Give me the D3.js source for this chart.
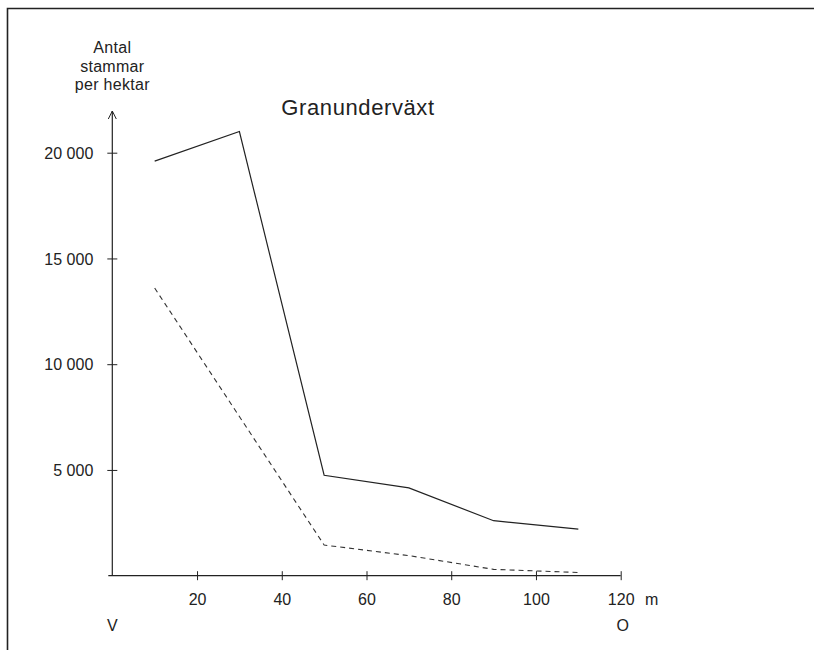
<!DOCTYPE html>
<html>
<head>
<meta charset="utf-8">
<script src="https://cdn.jsdelivr.net/npm/d3@7"></script>
<style>
  body { margin: 0; background: #fff; }
  text { font-family: "Liberation Sans", Arial, Helvetica, sans-serif; fill: #222; }
</style>
</head>
<body>
<div id="chart"></div>
<script>
// Avstånd (m) längs transekten, från V till O.
var distances = [10, 30, 50, 70, 90, 110];
// Antal stammar per hektar, heldragen och streckad linje.
var solidSeries = [19600, 21000, 4750, 4150, 2600, 2200];
var dashedSeries = [13600, 7500, 1450, 950, 300, 150];
var xTicks = [20, 40, 60, 80, 100, 120];
var yTicks = [5000, 10000, 15000, 20000];
var yLabelLines = ["Antal", "stammar", "per hektar"];
var title = "Granunderväxt";

// The dashed line at x=30 is not drawn as a vertex in the picture, so
// keep only the points that have a visible break.
var dashedPoints = [0, 2, 3, 4, 5];

function buildChart() {
  var width = 814;
  var height = 650;

  var x = d3.scaleLinear().domain([0, 120]).range([112.3, 620.7]);
  var y = d3.scaleLinear().domain([0, 20000]).range([575.7, 152.7]);

  var svg = d3.select("#chart").
    append("svg").
    attr("width", width).
    attr("height", height);

  // frame: top and left edges only
  svg.append("path").
    attr("d", "M7.5," + height + "V8.5H" + width).
    attr("fill", "none").
    attr("stroke", "#222").
    attr("stroke-width", 1.6);

  // x axis
  var xAxis = svg.append("g").
    attr("transform", "translate(0," + y(0) + ")").
    call(d3.axisBottom(x).tickValues(xTicks).tickSize(0).tickPadding(18));
  xAxis.select(".domain").remove();
  xAxis.append("line").
    attr("x1", x(0) - 4).
    attr("x2", x(120)).
    attr("stroke", "#222").
    attr("stroke-width", 1.2);
  xAxis.selectAll(".tick line").
    attr("y1", -4.5).
    attr("y2", 4.5).
    attr("stroke", "#222");
  xAxis.selectAll(".tick text").
    attr("font-size", 16).
    attr("fill", "#222").
    style("font-family", "Liberation Sans, Arial, sans-serif");

  // y axis
  var fmt = function(d) { return d3.format(",")(d).replace(",", " "); };
  var yAxis = svg.append("g").
    attr("transform", "translate(" + x(0) + ",0)").
    call(d3.axisLeft(y).tickValues(yTicks).tickSize(0).tickPadding(19).tickFormat(fmt));
  yAxis.select(".domain").remove();
  yAxis.append("line").
    attr("y1", y(0)).
    attr("y2", 111).
    attr("stroke", "#222").
    attr("stroke-width", 1.2);
  yAxis.append("path").
    attr("d", "M-4,119L0,111L4,119").
    attr("fill", "none").
    attr("stroke", "#222").
    attr("stroke-width", 1);
  yAxis.selectAll(".tick line").
    attr("x1", -5).
    attr("x2", 5).
    attr("stroke", "#222");
  yAxis.selectAll(".tick text").
    attr("font-size", 16).
    attr("fill", "#222").
    attr("dy", "0.36em").
    style("font-family", "Liberation Sans, Arial, sans-serif");

  // axis titles
  svg.selectAll("text.ylab").
    data(yLabelLines).
    enter().append("text").
    attr("class", "ylab").
    attr("x", x(0)).
    attr("y", function(d, i) { return 53 + i * 18.5; }).
    attr("text-anchor", "middle").
    attr("font-size", 16).
    attr("letter-spacing", 0.3).
    text(function(d) { return d; });

  svg.append("text").
    attr("x", x(120) + 31).
    attr("y", 605).
    attr("text-anchor", "middle").
    attr("font-size", 16).
    text("m");
  svg.append("text").
    attr("x", x(0)).
    attr("y", 631).
    attr("text-anchor", "middle").
    attr("font-size", 16).
    text("V");
  svg.append("text").
    attr("x", x(120) + 2).
    attr("y", 631).
    attr("text-anchor", "middle").
    attr("font-size", 16).
    text("O");

  svg.append("text").
    attr("x", 358).
    attr("y", 115).
    attr("text-anchor", "middle").
    attr("font-size", 22).
    attr("letter-spacing", 0.6).
    text(title);

  // lines
  var line = d3.line().
    x(function(d) { return x(d[0]); }).
    y(function(d) { return y(d[1]); });

  var solid = distances.map(function(d, i) { return [d, solidSeries[i]]; });
  var dashed = dashedPoints.map(function(i) { return [distances[i], dashedSeries[i]]; });

  svg.append("path").
    datum(solid).
    attr("d", line).
    attr("fill", "none").
    attr("stroke", "#222").
    attr("stroke-width", 1.2);

  svg.append("path").
    datum(dashed).
    attr("d", line).
    attr("fill", "none").
    attr("stroke", "#333").
    attr("stroke-width", 1.1).
    attr("stroke-dasharray", "5,4");
}

document.addEventListener("DOMContentLoaded", function () {
  buildChart();
});
</script>
</body>
</html>
